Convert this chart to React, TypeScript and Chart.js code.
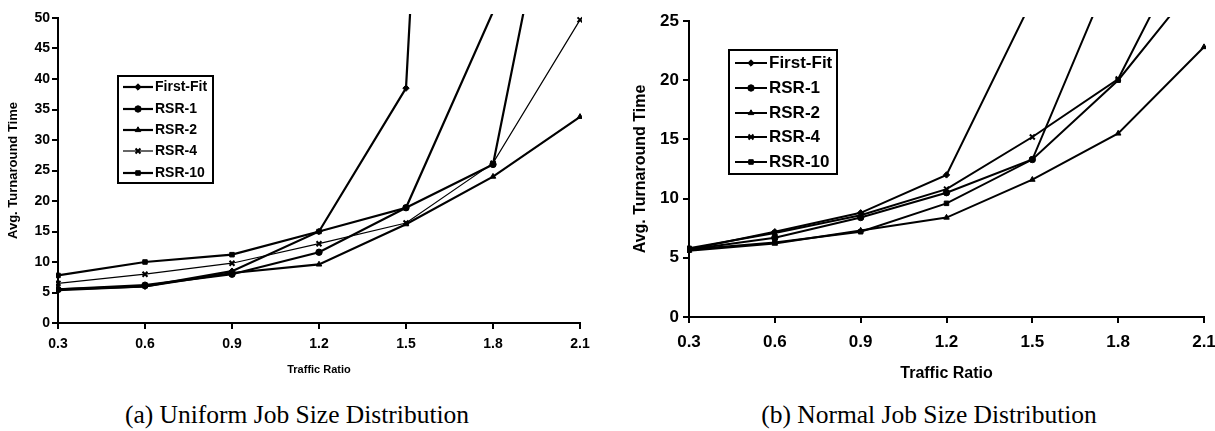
import React, { useEffect, useRef } from 'react';
import { Chart, registerables } from 'chart.js';
import { drawPoint } from 'chart.js/helpers';

Chart.register(...registerables);

// ---------- data ----------
const trafficRatios = ['0.3', '0.6', '0.9', '1.2', '1.5', '1.8', '2.1'];
const seriesNames = ['First-Fit', 'RSR-1', 'RSR-2', 'RSR-4', 'RSR-10'];

const uniformFirstFit = [5.5, 6.0, 8.5, 15.0, 38.5, 300, 600];
const uniformRSR1 = [5.5, 6.2, 8.0, 11.6, 18.9, 26.0, 97];
const uniformRSR2 = [5.4, 6.0, 8.2, 9.6, 16.2, 24.0, 33.8];
const uniformRSR4 = [6.5, 8.0, 9.8, 13.0, 16.4, 26.2, 49.7];
const uniformRSR10 = [7.8, 10.0, 11.2, 15.0, 18.9, 51, 120];

const normalFirstFit = [5.7, 7.2, 8.8, 12.0, 26.8, 50, 80];
const normalRSR1 = [5.7, 6.7, 8.4, 10.5, 13.3, 30.5, 60];
const normalRSR2 = [5.6, 6.2, 7.3, 8.4, 11.6, 15.5, 22.8];
const normalRSR4 = [5.8, 7.1, 8.6, 10.8, 15.2, 20.1, 34.3];
const normalRSR10 = [5.7, 6.3, 7.2, 9.6, 13.3, 20.0, 29.0];

const uniformYMax = 50;
const normalYMax = 25;
const yStep = 5;

const xTitle = 'Traffic Ratio';
const yTitle = 'Avg. Turnaround Time';
const captionA = '(a) Uniform Job Size Distribution';
const captionB = '(b) Normal Job Size Distribution';

// ---------- styles ----------
const pointStyles = ['rectRot', 'circle', 'triangle', 'crossRot', 'rect'];
const SANS = '"Liberation Sans", Arial, sans-serif';

const boxLegend = {
  id: 'boxLegend',
  afterDraw(chart: any, _args: any, opts: any) {
    if (!opts || !opts.box) return;
    const ctx = chart.ctx as CanvasRenderingContext2D;
    const b = opts.box;
    ctx.save();
    ctx.fillStyle = '#fff';
    ctx.fillRect(b.x, b.y, b.w, b.h);
    ctx.strokeStyle = '#000';
    ctx.lineWidth = opts.boxLineWidth;
    ctx.strokeRect(b.x, b.y, b.w, b.h);
    chart.data.datasets.forEach((ds: any, i: number) => {
      const y = opts.rowY[i];
      ctx.strokeStyle = '#000';
      ctx.fillStyle = '#000';
      ctx.lineWidth = ds.borderWidth;
      ctx.beginPath();
      ctx.moveTo(opts.lineX1, y);
      ctx.lineTo(opts.lineX2, y);
      ctx.stroke();
      ctx.lineWidth = ds.pointBorderWidth;
      drawPoint(ctx, { pointStyle: ds.pointStyle, radius: ds.pointRadius, borderWidth: ds.pointBorderWidth, rotation: 0 } as any,
        (opts.lineX1 + opts.lineX2) / 2, y);
      ctx.font = opts.font;
      ctx.textBaseline = 'middle';
      ctx.textAlign = 'left';
      ctx.fillText(ds.label, opts.textX, y);
    });
    ctx.restore();
  },
};

function makeDatasets(series: number[][], lineWidths: number[]) {
  return series.map((data, i) => ({
    label: seriesNames[i],
    data,
    borderColor: '#000',
    backgroundColor: '#000',
    borderWidth: lineWidths[i],
    pointStyle: pointStyles[i],
    pointRadius: i === 3 ? 3.5 : 3.2,
    pointBorderWidth: i === 3 ? 2 : 1,
    pointBackgroundColor: '#000',
    pointBorderColor: '#000',
    tension: 0,
    clip: { left: 2, top: 4, right: 2, bottom: 2 },
  }));
}

interface PanelSpec {
  width: number;
  height: number;
  series: number[][];
  lineWidths: number[];
  yMax: number;
  padding: { left: number; top: number; right: number; bottom: number };
  yAxisWidth: number;
  xAxisHeight: number;
  tickFont: number;
  tickPadX: number;
  tickPadY: number;
  xTitleFont: number;
  xTitlePad: number;
  yTitleFont: number;
  yTitlePad: number;
  legend: any;
}

function Panel({ spec, style }: { spec: PanelSpec; style: React.CSSProperties }) {
  const ref = useRef<HTMLCanvasElement>(null);
  useEffect(() => {
    if (!ref.current) return;
    const chart = new Chart(ref.current, {
      type: 'line',
      data: { labels: trafficRatios, datasets: makeDatasets(spec.series, spec.lineWidths) as any },
      plugins: [boxLegend as any],
      options: {
        animation: false,
        responsive: false,
        devicePixelRatio: 1,
        events: [],
        layout: { padding: spec.padding },
        plugins: {
          legend: { display: false },
          tooltip: { enabled: false },
          boxLegend: spec.legend,
        } as any,
        scales: {
          x: {
            type: 'category',
            offset: false,
            grid: { display: true, drawOnChartArea: false, drawTicks: true, tickLength: 6, color: '#000', lineWidth: 2 },
            border: { display: true, color: '#000', width: 2 },
            ticks: { color: '#000', font: { family: SANS, size: spec.tickFont, weight: 'bold' }, padding: spec.tickPadX, maxRotation: 0, autoSkip: false },
            title: { display: true, text: xTitle, color: '#000', font: { family: SANS, size: spec.xTitleFont, weight: 'bold' }, padding: { top: 0, bottom: spec.xTitlePad } },
            afterFit: (s: any) => { s.height = spec.xAxisHeight; s.paddingLeft = 0; s.paddingRight = 0; },
          },
          y: {
            type: 'linear',
            min: 0,
            max: spec.yMax,
            grid: { display: true, drawOnChartArea: false, drawTicks: true, tickLength: 6, color: '#000', lineWidth: 2 },
            border: { display: true, color: '#000', width: 2 },
            ticks: { stepSize: yStep, color: '#000', font: { family: SANS, size: spec.tickFont, weight: 'bold' }, padding: spec.tickPadY },
            title: { display: true, text: yTitle, color: '#000', font: { family: SANS, size: spec.yTitleFont, weight: 'bold' }, padding: { top: spec.yTitlePad, bottom: 0 } },
            afterFit: (s: any) => { s.width = spec.yAxisWidth; s.paddingTop = 0; s.paddingBottom = 0; },
          },
        } as any,
      },
    });
    return () => chart.destroy();
  }, [spec]);
  return <canvas ref={ref} width={spec.width} height={spec.height} style={{ position: 'absolute', ...style }} />;
}

const leftSpec: PanelSpec = {
  width: 600,
  height: 390,
  series: [uniformFirstFit, uniformRSR1, uniformRSR2, uniformRSR4, uniformRSR10],
  lineWidths: [2.2, 2.2, 2.2, 1.2, 2.2],
  yMax: uniformYMax,
  padding: { left: 0, top: 18, right: 20, bottom: 0 },
  yAxisWidth: 58,
  xAxisHeight: 67,
  tickFont: 14,
  tickPadX: 7,
  tickPadY: 2,
  xTitleFont: 11,
  xTitlePad: 13,
  yTitleFont: 13,
  yTitlePad: 6,
  legend: {
    box: { x: 118, y: 76, w: 95, h: 107 },
    boxLineWidth: 2,
    rowY: [87, 109, 130, 151, 173],
    lineX1: 123,
    lineX2: 153,
    textX: 155,
    font: `bold 14px ${SANS}`,
  },
};

const rightSpec: PanelSpec = {
  width: 615,
  height: 390,
  series: [normalFirstFit, normalRSR1, normalRSR2, normalRSR4, normalRSR10],
  lineWidths: [2, 2, 2, 2, 2],
  yMax: normalYMax,
  padding: { left: 0, top: 21, right: 11, bottom: 0 },
  yAxisWidth: 89,
  xAxisHeight: 73,
  tickFont: 17,
  tickPadX: 9,
  tickPadY: 4,
  xTitleFont: 16,
  xTitlePad: 7,
  yTitleFont: 16,
  yTitlePad: 31,
  legend: {
    box: { x: 129, y: 50, w: 108, h: 124 },
    boxLineWidth: 2,
    rowY: [63, 88, 113, 137, 162],
    lineX1: 135,
    lineX2: 167,
    textX: 169,
    font: `bold 17px ${SANS}`,
  },
};

const captionStyle: React.CSSProperties = {
  position: 'absolute',
  top: 400,
  width: 400,
  textAlign: 'center',
  fontFamily: '"Liberation Serif", "Times New Roman", serif',
  fontSize: 25.5,
  lineHeight: '29px',
  color: '#000',
  whiteSpace: 'nowrap',
};

export default function App() {
  return (
    <div style={{ position: 'absolute', left: 0, top: 0, width: 1215, height: 431, background: '#fff', overflow: 'hidden' }}>
      <Panel spec={leftSpec} style={{ left: 0, top: 0 }} />
      <Panel spec={rightSpec} style={{ left: 600, top: 0 }} />
      <div style={{ ...captionStyle, left: 97 }}>{captionA}</div>
      <div style={{ ...captionStyle, left: 729 }}>{captionB}</div>
    </div>
  );
}
